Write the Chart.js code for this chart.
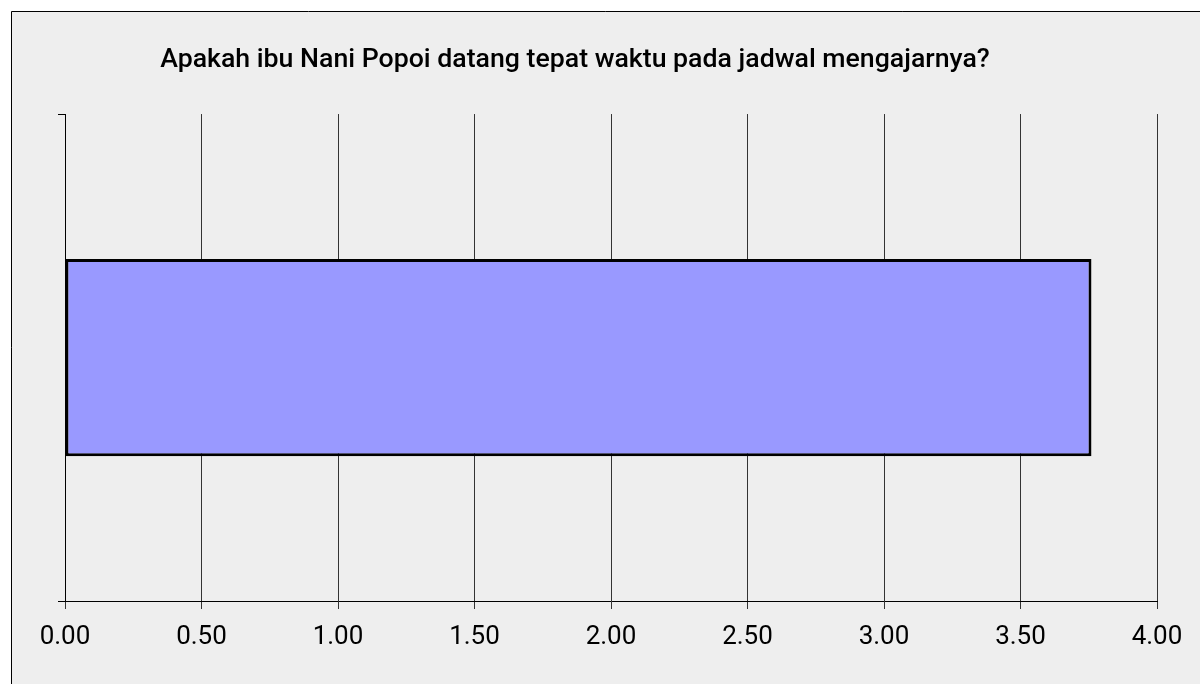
<!DOCTYPE html>
<html>
<head>
<meta charset="utf-8">
<script src="https://cdn.jsdelivr.net/npm/chart.js@4/dist/chart.umd.min.js"></script>
<style>
html,body{margin:0;padding:0;background:#fff;}
#wrap{position:relative;width:1200px;height:684px;}
</style>
</head>
<body>
<div id="wrap"><canvas id="c" width="1200" height="684"></canvas></div>
<script>
const titleText = 'Apakah ibu Nani Popoi datang tepat waktu pada jadwal mengajarnya?';
const categories = [''];
const values = [3.76];
const xMin = 0, xMax = 4, xStep = 0.5;

const bgPlugin = {
  id: 'bg',
  beforeDraw(chart) {
    const ctx = chart.ctx;
    ctx.save();
    ctx.fillStyle = '#eeeeee';
    ctx.fillRect(11, 11, chart.width - 11, chart.height - 11);
    ctx.strokeStyle = '#000';
    ctx.lineWidth = 1;
    ctx.beginPath();
    ctx.moveTo(11.5, chart.height);
    ctx.lineTo(11.5, 11.5);
    ctx.lineTo(chart.width, 11.5);
    ctx.stroke();
    ctx.restore();
  },
  afterLayout(chart) {
    if (chart.titleBlock) {
      chart.titleBlock.left = 0;
      chart.titleBlock.right = 1150;
    }
  }
};

new Chart(document.getElementById('c'), {
  type: 'bar',
  data: {
    labels: categories,
    datasets: [{
      data: values,
      backgroundColor: '#9999ff',
      borderColor: '#000000',
      borderWidth: 3,
      borderSkipped: false,
      barPercentage: 0.405,
      categoryPercentage: 1.0
    }]
  },
  options: {
    indexAxis: 'y',
    responsive: false,
    animation: false,
    layout: { padding: { left: 0, right: 43, top: 0, bottom: 0 } },
    plugins: {
      legend: { display: false },
      tooltip: { enabled: false },
      title: {
        display: true,
        text: titleText,
        color: '#000',
        font: { family: 'Roboto', size: 26.7, weight: '500', lineHeight: 1.2 },
        padding: { top: 44, bottom: 38 }
      }
    },
    scales: {
      x: {
        min: xMin,
        max: xMax,
        ticks: {
          stepSize: xStep,
          color: '#000',
          font: { family: 'Roboto', size: 26 },
          padding: 13,
          callback: v => Number(v).toFixed(2)
        },
        grid: { color: '#333333', lineWidth: 1, tickLength: 8, drawTicks: true },
        border: { display: true, color: '#000', width: 1 },
        afterFit(scale) { scale.height = 83; }
      },
      y: {
        ticks: { display: true, font: { size: 1 } },
        grid: { offset: true, drawOnChartArea: false, drawTicks: true, tickLength: 7, color: '#000' },
        border: { display: true, color: '#000', width: 1 },
        afterFit(scale) { scale.width = 65; }
      }
    }
  },
  plugins: [bgPlugin]
});
</script>
</body>
</html>
